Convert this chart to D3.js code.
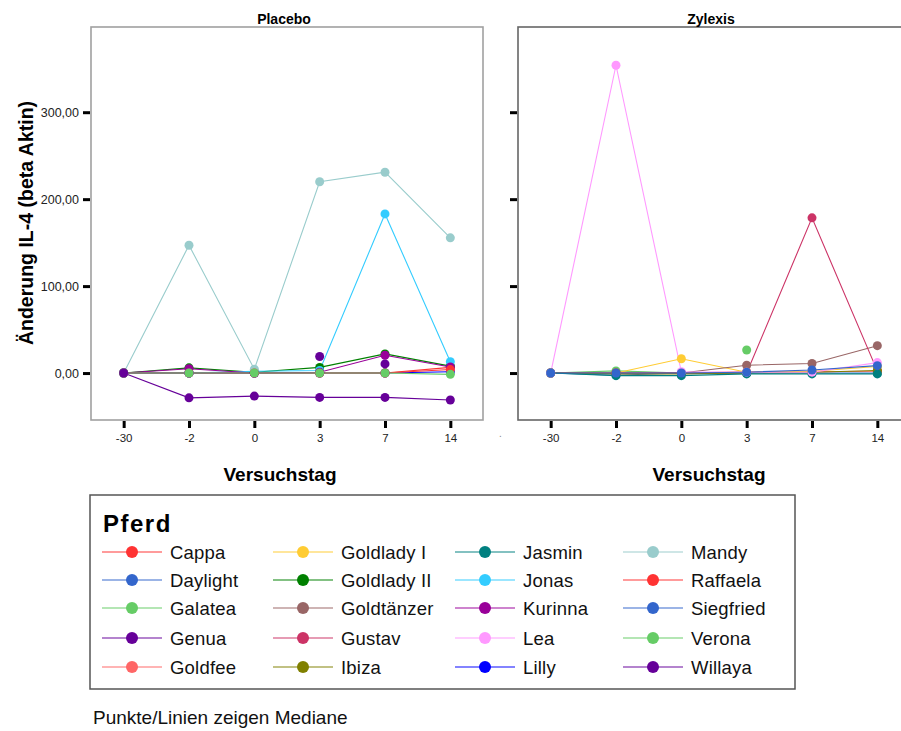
<!DOCTYPE html>
<html>
<head>
<meta charset="utf-8">
<script src="https://cdn.jsdelivr.net/npm/d3@7"></script>
<style>
  html, body { margin: 0; padding: 0; background: #fff; }
  svg { display: block; font-family: Arial, "Liberation Sans", sans-serif; }
</style>
</head>
<body>
<svg id="chart" width="901" height="731"></svg>
<script>
// Study days (categorical x axis)
const days = ["-30", "-2", "0", "3", "7", "14"];
const yTicks = [0, 100, 200, 300];

// Horses in legend order with their colours
const horses = ["Cappa", "Daylight", "Galatea", "Genua", "Goldfee",
                "Goldlady I", "Goldlady II", "Goldtänzer", "Gustav", "Ibiza",
                "Jasmin", "Jonas", "Kurinna", "Lea", "Lilly",
                "Mandy", "Raffaela", "Siegfried", "Verona", "Willaya"];
const horseColors = ["#ff3333", "#3366cc", "#66cc66", "#660099", "#ff6666",
                "#ffcc33", "#008000", "#996666", "#cc3366", "#808000",
                "#008080", "#33ccff", "#990099", "#ff99ff", "#0000ff",
                "#99cccc", "#ff3333", "#3366cc", "#66cc66", "#660099"];

// Median change of IL-4 per horse and day (null = no median on that day)
const placeboSeries = {
  "Cappa":       [0, 0, 0, 0, 0, 6.5],
  "Genua":       [0, 0, 0, null, null, null],
  "Goldlady II": [0, 6, 1, 6.5, 22, 8],
  "Jonas":       [0, 0, 2, 3, 183, 13],
  "Kurinna":     [0, 5, 0, 1, 20.5, 7],
  "Lilly":       [0, 0, 0, 0, 0, 1.5],
  "Mandy":       [0, 147, 4.5, 220, 231, 155.5],
  "Raffaela":    [0, 0, 0, 0, 0, 4],
  "Verona":      [0, 0, 0, 0, 0, -1.5],
  "Willaya":     [0, -28.5, -26.5, -28, -28, -31]
};
// Medians without a neighbouring median (drawn as lone markers)
const placeboSingles = [
  { horse: "Genua", day: "3", value: 19 },
  { horse: "Genua", day: "7", value: 10.5 }
];

const zylexisSeries = {
  "Daylight":    [0, -2.5, 0, 0, 0, 0],
  "Galatea":     [0, 2.5, 0, null, null, 0],
  "Goldfee":     [0, 0, 0, 1.5, 1.5, 2],
  "Goldlady I":  [0, 0, 16.5, 1, 2, 7.5],
  "Goldtänzer":  [0, 0, 0, 9, 11, 31.5],
  "Gustav":      [0, 0, 0, 0, 178.5, 2.5],
  "Ibiza":       [0, -1, -1, 0, 1, 3],
  "Jasmin":      [0, -3, -3, -1, -1, -1],
  "Lea":         [0, 354, 1.5, 1, 1, 12],
  "Siegfried":   [0, 0, 0, 1, 3.5, 8.5]
};
const zylexisSingles = [
  { horse: "Verona", day: "3", value: 26.5 }
];

const svg = d3.select("#chart");
const color = d3.scaleOrdinal().domain(horses).range(horseColors);

const plotTop = 27, plotBottom = 420;
const y = d3.scaleLinear().domain([-54, 398]).range([plotBottom, plotTop]);

const panels = [
  { title: "Placebo", left: 91, right: 483, series: placeboSeries, singles: placeboSingles,
    frame: "#a0a0a0", labels: true },
  { title: "Zylexis", left: 518, right: 910, series: zylexisSeries, singles: zylexisSingles,
    frame: "#666", labels: false }
];

panels.forEach(p => {
  const x = d3.scalePoint().domain(days).range([p.left, p.right]).padding(0.5);
  const g = svg.append("g");

  // frame
  g.append("rect")
    .attr("x", p.left).attr("y", plotTop)
    .attr("width", p.right - p.left).attr("height", plotBottom - plotTop)
    .attr("fill", "none").attr("stroke", p.frame).attr("stroke-width", 1.6);

  // title
  g.append("text")
    .attr("x", (p.left + p.right) / 2 - 3).attr("y", 24)
    .attr("text-anchor", "middle").attr("font-weight", "bold").attr("font-size", 14)
    .text(p.title);

  // y axis
  const yAxis = d3.axisLeft(y).tickValues(yTicks).tickSize(7)
    .tickFormat(p.labels ? (d => d3.format(".2f")(d).replace(".", ",")) : () => "");
  const ya = g.append("g").attr("transform", `translate(${p.left - 1},0)`).call(yAxis);
  ya.select(".domain").remove();
  ya.selectAll(".tick line").attr("stroke", "#000").attr("stroke-width", 3);
  ya.selectAll(".tick text").attr("font-size", 12.5).attr("x", -11)
    .attr("font-family", "Arial, 'Liberation Sans', sans-serif").attr("fill", "#222");

  // x axis
  const xAxis = d3.axisBottom(x).tickSize(7).tickPadding(6);
  const xa = g.append("g").attr("transform", `translate(0,${plotBottom + 1})`).call(xAxis);
  xa.select(".domain").remove();
  xa.selectAll(".tick line").attr("stroke", "#000").attr("stroke-width", 3);
  xa.selectAll(".tick text").attr("font-size", 11.5)
    .attr("font-family", "Arial, 'Liberation Sans', sans-serif").attr("fill", "#222");

  // x axis title
  g.append("text")
    .attr("x", (p.left + p.right) / 2 - (p.labels ? 7 : 5)).attr("y", 481)
    .attr("text-anchor", "middle").attr("font-weight", "bold").attr("font-size", 19)
    .text("Versuchstag");

  const line = d3.line()
    .defined(d => d.value !== null)
    .x(d => x(d.day)).y(d => y(d.value));

  const entries = Object.entries(p.series).map(([horse, vals]) => ({
    horse, points: vals.map((v, i) => ({ day: days[i], value: v }))
  }));

  const plot = g.append("g");
  entries.forEach(e => {
    plot.append("path")
      .datum(e.points)
      .attr("d", line)
      .attr("fill", "none")
      .attr("stroke", color(e.horse))
      .attr("stroke-width", 1.1);
  });
  entries.forEach(e => {
    plot.selectAll(null)
      .data(e.points.filter(d => d.value !== null))
      .join("circle")
      .attr("cx", d => x(d.day)).attr("cy", d => y(d.value))
      .attr("r", 4.5).attr("fill", color(e.horse));
  });
  plot.selectAll(null)
    .data(p.singles)
    .join("circle")
    .attr("cx", d => x(d.day)).attr("cy", d => y(d.value))
    .attr("r", 4.5).attr("fill", d => color(d.horse));
});

// small separator mark between the panels
svg.append("text").attr("x", 499).attr("y", 437).attr("font-size", 10)
  .attr("fill", "#888").text(".");

// y axis title
svg.append("text")
  .attr("transform", "translate(33,223) rotate(-90)")
  .attr("text-anchor", "middle").attr("font-weight", "bold").attr("font-size", 19.5)
  .text("Änderung IL-4 (beta Aktin)");

// legend
const legend = svg.append("g");
legend.append("rect")
  .attr("x", 90).attr("y", 495).attr("width", 705).attr("height", 194)
  .attr("fill", "#fff").attr("stroke", "#555").attr("stroke-width", 1.5);
legend.append("text")
  .attr("x", 103).attr("y", 532).attr("font-weight", "bold").attr("font-size", 24)
  .attr("letter-spacing", 1.5)
  .text("Pferd");

const colX = [102, 273, 455, 623];
const rowY = [552, 580, 608, 638, 667];
horses.forEach((h, i) => {
  const c = Math.floor(i / 5), r = i % 5;
  const lx = colX[c], ly = rowY[r];
  const item = legend.append("g");
  item.append("line")
    .attr("x1", lx).attr("x2", lx + 60).attr("y1", ly).attr("y2", ly)
    .attr("stroke", color(h)).attr("stroke-opacity", 0.65).attr("stroke-width", 1.5);
  item.append("circle")
    .attr("cx", lx + 30).attr("cy", ly).attr("r", 6).attr("fill", color(h));
  item.append("text")
    .attr("x", lx + 68).attr("y", ly + 6.5).attr("font-size", 18.5).attr("fill", "#111")
    .attr("letter-spacing", 0.2)
    .text(h);
});

// footnote
svg.append("text")
  .attr("x", 93).attr("y", 724).attr("font-size", 19).attr("fill", "#111")
  .text("Punkte/Linien zeigen Mediane");
</script>
</body>
</html>
